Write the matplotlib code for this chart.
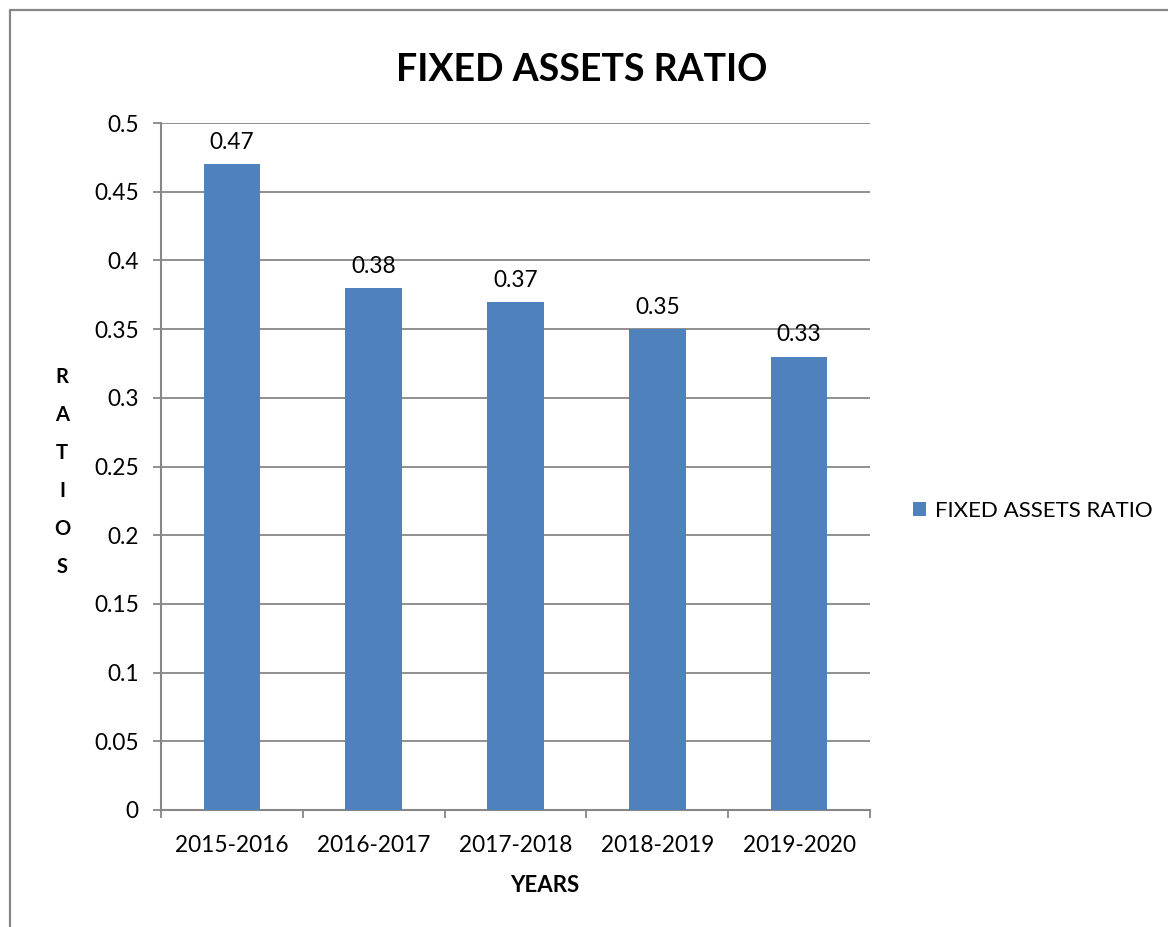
import matplotlib.pyplot as plt
from matplotlib.lines import Line2D
import numpy as np

# Chart data
years = ["2015-2016", "2016-2017", "2017-2018", "2018-2019", "2019-2020"]
ratios = [0.47, 0.38, 0.37, 0.35, 0.33]
y_ticks = [0, 0.05, 0.1, 0.15, 0.2, 0.25, 0.3, 0.35, 0.4, 0.45, 0.5]
y_tick_labels = ["0", "0.05", "0.1", "0.15", "0.2", "0.25", "0.3", "0.35", "0.4", "0.45", "0.5"]

bar_color = "#4F81BD"
line_gray = "#878787"

plt.rcParams["font.family"] = ["Lato", "DejaVu Sans"]

fig = plt.figure(figsize=(11.68, 9.27), dpi=100)
ax = fig.add_axes([161 / 1168, 1 - 810 / 927, 709 / 1168, 687 / 927])

x = np.arange(len(years))
bars = ax.bar(x, ratios, width=0.4, color=bar_color, label="FIXED ASSETS RATIO", zorder=3)

# value labels above each bar
for xi, val in zip(x, ratios):
    ax.annotate(f"{val:g}", (xi, val), xytext=(0, 8), textcoords="offset points",
                ha="center", va="bottom", fontsize=16.3)

ax.set_xlim(-0.5, len(years) - 0.5)
ax.set_ylim(0, 0.5)
ax.set_yticks(y_ticks)
ax.set_yticklabels(y_tick_labels, fontsize=16.3)
ax.set_xticks(x)
ax.set_xticklabels(years, fontsize=16.3)
ax.set_xticks(np.arange(-0.5, len(years)), minor=True)

ax.grid(axis="y", color=line_gray, linewidth=1.3, zorder=0)
ax.tick_params(axis="y", which="major", length=6, width=1.3, color=line_gray, pad=10)
ax.tick_params(axis="x", which="major", length=0, pad=18)
ax.tick_params(axis="x", which="minor", length=6, width=1.3, color=line_gray)

for side in ["top", "right"]:
    ax.spines[side].set_visible(False)
for side in ["left", "bottom"]:
    ax.spines[side].set_color(line_gray)
    ax.spines[side].set_linewidth(1.5)

fig.text(582 / 1168, 1 - 70 / 927, "FIXED ASSETS RATIO", ha="center", va="center",
         fontsize=27, fontweight="bold")
fig.text(545 / 1168, 1 - 885 / 927, "YEARS", ha="center", va="center",
         fontsize=16, fontweight="bold")
fig.text(62 / 1168, 1 - 472 / 927, "R\nA\nT\nI\nO\nS", ha="center", va="center",
         fontsize=14.5, fontweight="bold", linespacing=2.12)

fig.legend(handles=[bars], loc="center left", bbox_to_anchor=(893 / 1168, 1 - 511 / 927),
           frameon=False, fontsize=16, handlelength=0.6, handleheight=0.6,
           handletextpad=0.4)

# outer chart border (left and top edges)
bx = 10 / 1168
by = 1 - 10 / 927
fig.add_artist(Line2D([bx, bx, 1], [0, by, by], transform=fig.transFigure,
                      color=line_gray, linewidth=1.6))

fig.savefig("out.png", dpi=100, facecolor="white")
